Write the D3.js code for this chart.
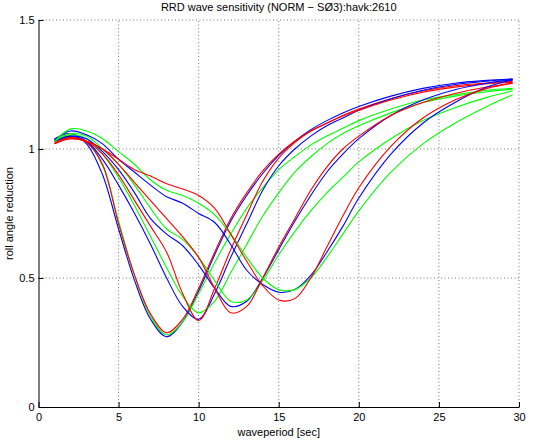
<!DOCTYPE html>
<html><head>
<meta charset="utf-8">
<title>RRD wave sensitivity</title>
<script src="https://d3js.org/d3.v7.min.js"></script>
<style>
  body { margin: 0; background: #fff; }
  svg text { font-family: "Liberation Sans", Arial, sans-serif; font-size: 11px; fill: #000; }
  .gridlines line { stroke: #555; stroke-dasharray: 1,2.5; stroke-width: 0.8; }
  .axis path, .axis line { stroke: #000; }
  .curve { fill: none; stroke-width: 1.1; }
</style>
</head>
<body>
<svg id="chart" width="533" height="441"></svg>
<script>

const periods = [1,2,3,4,5,6,7,8,9,10,11,12,13,14,15,16,17,18,19,20,22,24,26,28,29.6];

// case A (dip near 8 s)
const blueA  = [1.04,1.06,1.02,0.90,0.69,0.49,0.34,0.272,0.33,0.45,0.59,0.72,0.82,0.905,0.975,1.03,1.075,1.11,1.14,1.165,1.205,1.235,1.255,1.266,1.272];
const greenA = [1.035,1.05,1.03,0.935,0.72,0.51,0.35,0.28,0.33,0.44,0.56,0.67,0.77,0.85,0.92,0.97,1.015,1.05,1.08,1.11,1.155,1.19,1.21,1.228,1.235];
const redA   = [1.03,1.045,1.025,0.94,0.71,0.51,0.36,0.288,0.34,0.46,0.60,0.73,0.83,0.915,0.98,1.03,1.07,1.10,1.13,1.155,1.195,1.225,1.245,1.256,1.262];

// case B (dip near 10 s)
const blueB  = [1.035,1.05,1.03,0.96,0.86,0.75,0.63,0.50,0.39,0.34,0.44,0.58,0.71,0.84,0.935,1.0,1.05,1.09,1.12,1.15,1.195,1.228,1.25,1.263,1.27];
const greenB = [1.03,1.055,1.04,0.98,0.89,0.78,0.66,0.54,0.43,0.365,0.41,0.52,0.63,0.74,0.83,0.91,0.97,1.02,1.06,1.09,1.14,1.18,1.205,1.222,1.232];
const redB   = [1.025,1.04,1.03,0.98,0.90,0.80,0.70,0.60,0.44,0.335,0.46,0.61,0.745,0.875,0.965,1.025,1.07,1.10,1.128,1.15,1.19,1.22,1.24,1.253,1.258];

// case C (dip near 12 s)
const blueC  = [1.03,1.05,1.04,0.99,0.92,0.83,0.73,0.67,0.625,0.55,0.46,0.39,0.41,0.50,0.61,0.72,0.82,0.91,0.98,1.04,1.13,1.19,1.23,1.255,1.268];
const greenC = [1.03,1.06,1.05,1.0,0.94,0.86,0.77,0.69,0.65,0.58,0.49,0.41,0.415,0.49,0.59,0.68,0.76,0.83,0.89,0.95,1.04,1.11,1.16,1.20,1.225];
const redC   = [1.02,1.04,1.03,1.0,0.94,0.87,0.80,0.73,0.66,0.58,0.46,0.365,0.39,0.50,0.62,0.73,0.84,0.93,1.0,1.05,1.13,1.18,1.215,1.24,1.255];

// case D (dip near 15 s)
const blueD  = [1.035,1.07,1.055,1.02,0.96,0.91,0.86,0.815,0.79,0.75,0.715,0.63,0.53,0.475,0.445,0.455,0.51,0.60,0.70,0.81,0.98,1.10,1.18,1.24,1.268];
const greenD = [1.03,1.078,1.07,1.04,0.99,0.94,0.88,0.84,0.82,0.79,0.745,0.67,0.58,0.50,0.455,0.455,0.50,0.58,0.67,0.76,0.91,1.02,1.10,1.165,1.21];
const redD   = [1.02,1.045,1.03,1.0,0.96,0.92,0.895,0.865,0.845,0.82,0.77,0.67,0.565,0.47,0.415,0.42,0.50,0.62,0.74,0.85,1.01,1.12,1.19,1.235,1.255];

const xTicks = [0,5,10,15,20,25,30];
const yTicks = [0,0.5,1,1.5];

const series = [
  {color: "#0000ff", values: blueA}, {color: "#00ff00", values: greenA}, {color: "#ff0000", values: redA},
  {color: "#0000ff", values: blueB}, {color: "#00ff00", values: greenB}, {color: "#ff0000", values: redB},
  {color: "#0000ff", values: blueC}, {color: "#00ff00", values: greenC}, {color: "#ff0000", values: redC},
  {color: "#0000ff", values: blueD}, {color: "#00ff00", values: greenD}, {color: "#ff0000", values: redD}
];

const svg = d3.select("svg#chart");
const width = svg.attr("width");
const height = svg.attr("height");
const margin = {top: 20, right: 14, bottom: 34, left: 38.5};
const chartWidth = width - margin.left - margin.right;
const chartHeight = height - margin.top - margin.bottom;

const xScale = d3.scaleLinear().domain([0, 30]).range([0, chartWidth]);
const yScale = d3.scaleLinear().domain([0, 1.5]).range([chartHeight, 0]);

let chartArea = svg.append("g")
  .attr("transform", "translate(" + margin.left + "," + margin.top + ")");

// dotted grid
let grid = chartArea.append("g").attr("class", "gridlines");
grid.selectAll("line.gx")
  .data(xTicks.filter(d => d > 0))
  .join("line")
  .attr("class", "gx")
  .attr("x1", d => xScale(d)).attr("x2", d => xScale(d))
  .attr("y1", yScale(0)).attr("y2", yScale(1.5));
grid.selectAll("line.gy")
  .data(yTicks.filter(d => d > 0))
  .join("line")
  .attr("class", "gy")
  .attr("y1", d => yScale(d)).attr("y2", d => yScale(d))
  .attr("x1", xScale(0)).attr("x2", xScale(30));

// curves
const line = d3.line()
  .x((d, i) => xScale(periods[i]))
  .y(d => yScale(d))
  .curve(d3.curveCatmullRom.alpha(0.5));

chartArea.selectAll("path.curve")
  .data(series)
  .join("path")
  .attr("class", "curve")
  .attr("stroke", d => d.color)
  .attr("d", d => line(d.values));

// axes, ticks point inwards like matlab
let bottomAxis = d3.axisBottom(xScale)
  .tickValues(xTicks)
  .tickFormat(d3.format("d"))
  .tickSizeInner(-5).tickSizeOuter(0).tickPadding(6);
chartArea.append("g")
  .attr("class", "x axis")
  .attr("transform", "translate(0," + chartHeight + ")")
  .call(bottomAxis);

let leftAxis = d3.axisLeft(yScale)
  .tickValues(yTicks)
  .tickFormat(d3.format("~g"))
  .tickSizeInner(-5).tickSizeOuter(0).tickPadding(4);
chartArea.append("g")
  .attr("class", "y axis")
  .call(leftAxis);

svg.selectAll(".axis text").style("font-size", "11px").style("font-family", "Liberation Sans, Arial, sans-serif");

// labels
svg.append("text")
  .attr("x", margin.left + chartWidth / 2)
  .attr("y", 11)
  .attr("text-anchor", "middle")
  .text("RRD wave sensitivity (NORM \u2212 S\u00d83):havk:2610");

svg.append("text")
  .attr("x", margin.left + chartWidth / 2)
  .attr("y", 436)
  .attr("text-anchor", "middle")
  .text("waveperiod [sec]");

svg.append("text")
  .attr("transform", "translate(13," + (margin.top + chartHeight / 2) + ") rotate(-90)")
  .attr("text-anchor", "middle")
  .text("roll angle reduction");

</script>
</body>
</html>
